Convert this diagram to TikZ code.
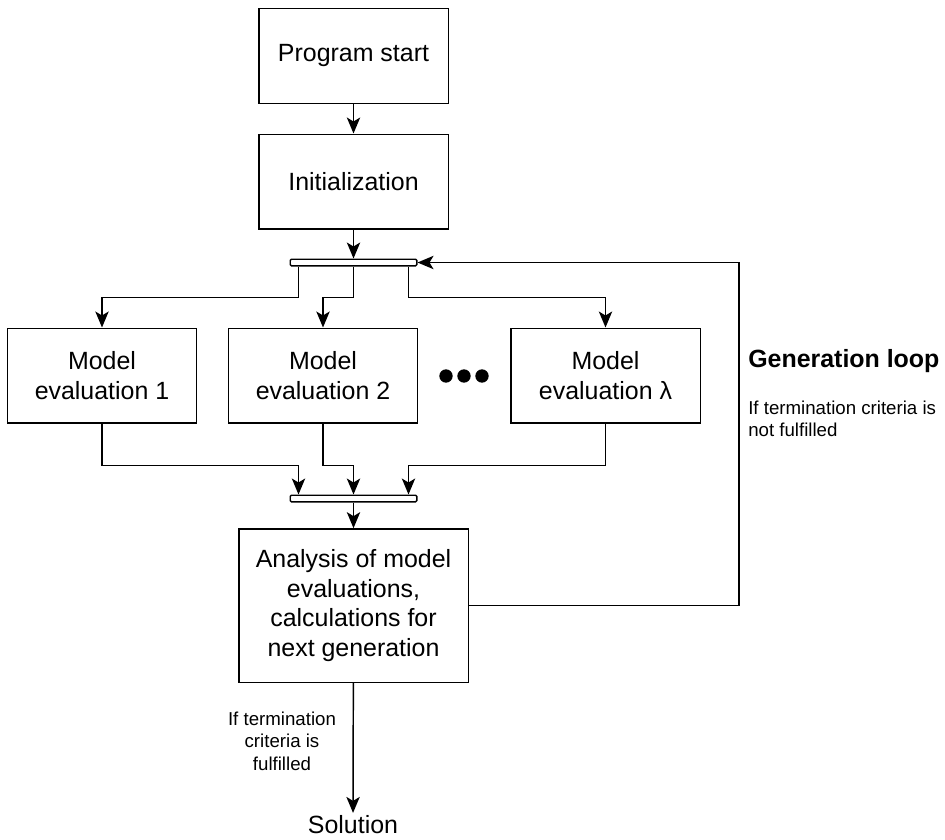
\documentclass[tikz,border=0pt]{standalone}
\usepackage{fontspec}
\setmainfont{Liberation Sans}
\usetikzlibrary{arrows.meta}
\usetikzlibrary{calc}
\tikzset{
      block/.style={draw=black, line width=1pt, fill=white, align=center,
            minimum width=142pt, minimum height=71pt, inner sep=2pt,
            font=\fontsize{18.7pt}{22.4pt}\selectfont},
      bar/.style={draw=black, line width=1pt, fill=white, rounded corners=1pt,
            minimum width=95pt, minimum height=5pt, inner sep=0pt},
      flow/.style={draw=black, line width=1.1pt, -{Stealth[length=12pt, width=10pt, inset=3pt]}},
      note/.style={align=center, font=\fontsize{14pt}{16.9pt}\selectfont},
      dot/.style={circle, fill=black, minimum size=10pt, inner sep=0pt},
}
\begin{document}
\begin{tikzpicture}[x=0.75pt, y=-0.75pt]
        \useasboundingbox (0,0) rectangle (945,839);

        % Draw the boxes
        \node[block] (start) at (353.5,56) {Program start};
        \node[block] (init) at (353.5,181.5) {Initialization};
        \node[bar] (fork) at (353.5,262.5) {};
        \node[block] (eval1) at (102,375.5) {Model\\evaluation 1};
        \node[block] (eval2) at (323,375.5) {Model\\evaluation 2};
        \node[block] (evall) at (605.5,375.5) {Model\\evaluation λ};
        \foreach \x in {446,464,482}
            \node[dot] (dot\x) at (\x,376) {};
        \node[bar] (join) at (353.5,498.5) {};
        \node[block, minimum width=172pt, minimum height=115pt] (analysis) at (353.5,605.5)
            {Analysis of model\\evaluations,\\calculations for\\next generation};
        \node[font=\fontsize{18.7pt}{22.4pt}\selectfont, inner sep=2pt] (solution) at (353,825) {Solution};

        % Draw the labels
        \node[note] (done) at (282,741) {If termination\\criteria is\\fulfilled};
        \node[font=\fontsize{18.7pt}{22.4pt}\selectfont\bfseries, anchor=west, inner sep=0pt] (genloop) at (748,361) {Generation loop};
        \node[note, align=left, anchor=west, inner sep=0pt] (notdone) at (748,419) {If termination criteria is\\not fulfilled};

        % Draw the arrows
        \draw[flow] (start) -- (init);
        \draw[flow] (init) -- (fork);
        \draw[flow] ($(fork.south)+(-55,0)$) -- ++(0,31) -| (eval1.north);
        \draw[flow] (fork.south) -- ++(0,31) -| (eval2.north);
        \draw[flow] ($(fork.south)+(55,0)$) -- ++(0,31) -| (evall.north);

        \draw[flow] (eval1.south) -- ++(0,42) -| ($(join.north)+(-55,0)$);
        \draw[flow] (eval2.south) -- ++(0,42) -| (join.north);
        \draw[flow] (evall.south) -- ++(0,42) -| ($(join.north)+(55,0)$);
        \draw[flow] (join) -- (analysis);

        \coordinate (loop) at (739,262.5);
        \draw[flow] (analysis.east) -| (loop) -- (fork.east);
        \draw[flow] (analysis) -- (solution);

    \end{tikzpicture}
\end{document}
